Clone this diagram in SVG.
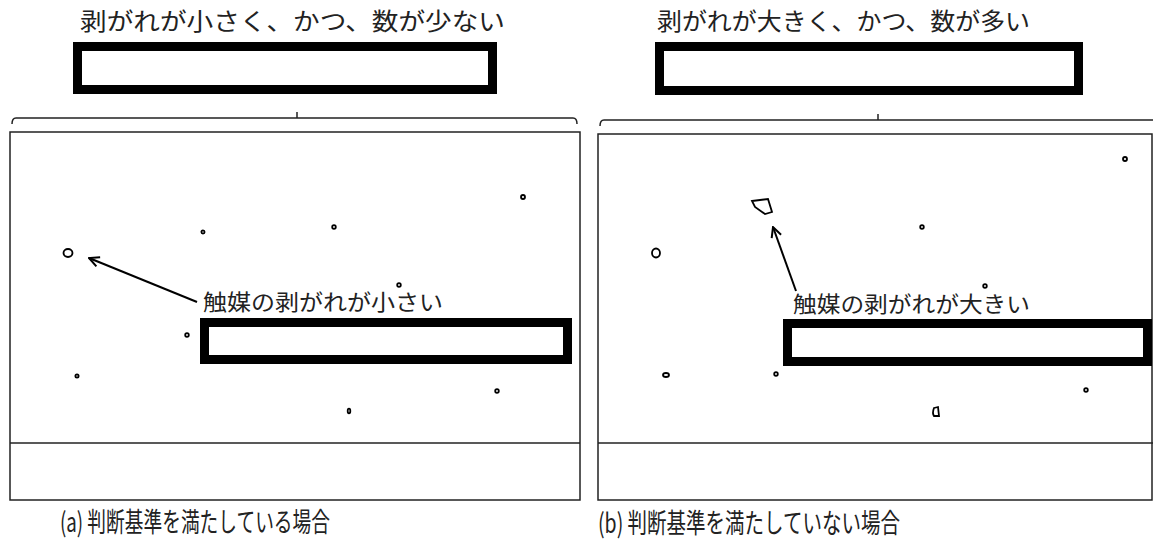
<svg xmlns="http://www.w3.org/2000/svg" width="1153" height="541" viewBox="0 0 1153 541">
<style>
.t{font-family:"Noto Sans CJK JP","Noto Sans CJK SC",sans-serif;fill:#222;}
.big{font-size:24px;}
.mid{font-size:22px;}
.cap{font-size:27px;}
.thick{fill:none;stroke:#000;stroke-width:9;}
.thin{fill:none;stroke:#222;stroke-width:1.5;}
.p{fill:#fff;stroke:#000;stroke-width:1.8;}
</style>
<defs>
<marker id="ah" viewBox="0 0 12 12" refX="11" refY="6" markerWidth="12" markerHeight="12" markerUnits="userSpaceOnUse" orient="auto">
<path d="M1,1 L11,6 L1,11" fill="none" stroke="#000" stroke-width="2"/>
</marker>
</defs>
<rect width="1153" height="541" fill="#fff"/>

<g id="panel-a">
<text class="t big" x="80" y="30" textLength="425" lengthAdjust="spacingAndGlyphs">剥がれが小さく、かつ、数が少ない</text>
<rect class="thick" x="77.5" y="46.5" width="415" height="43"/>
<path class="thin" d="M12,124 Q12,118 16,118 L573,118 Q577,118 577,124 M297,118 L297,112"/>
<rect class="thin" x="10" y="132" width="570" height="368"/>
<line class="thin" x1="10" y1="443" x2="580" y2="443"/>
<g id="particles-a">
<ellipse class="p" cx="68" cy="253" rx="4.5" ry="4"/>
<circle class="p" cx="203" cy="232" r="1.6"/>
<circle class="p" cx="334" cy="227" r="1.8"/>
<circle class="p" cx="523" cy="197" r="2"/>
<circle class="p" cx="399" cy="285" r="1.8"/>
<circle class="p" cx="187" cy="335" r="1.8"/>
<circle class="p" cx="77" cy="376" r="1.6"/>
<circle class="p" cx="497" cy="391" r="1.8"/>
<ellipse class="p" cx="349" cy="411" rx="1.3" ry="2.3"/>
</g>
<text class="t mid" x="203" y="310" textLength="240" lengthAdjust="spacingAndGlyphs">触媒の剥がれが小さい</text>
<rect class="thick" x="204.5" y="322.5" width="363" height="37"/>
</g>

<g id="panel-b">
<text class="t big" x="657" y="30" textLength="373" lengthAdjust="spacingAndGlyphs">剥がれが大きく、かつ、数が多い</text>
<rect class="thick" x="659.5" y="46.5" width="419" height="44"/>
<path class="thin" d="M600,126 Q600,120 604,120 L1153,120 M878,120 L878,114"/>
<rect class="thin" x="598" y="134" width="554" height="366"/>
<line class="thin" x1="598" y1="443" x2="1153" y2="443"/>
<g id="particles-b">
<circle class="p" cx="1125" cy="159" r="2"/>
<path class="p" d="M752,201 L768,199 L772,212 L765,214 L755,207 Z"/>
<circle class="p" cx="922" cy="227" r="1.8"/>
<ellipse class="p" cx="656" cy="253" rx="4" ry="4.5"/>
<circle class="p" cx="985" cy="286" r="1.8"/>
<ellipse class="p" cx="666" cy="375" rx="3" ry="2"/>
<circle class="p" cx="776" cy="374" r="1.8"/>
<circle class="p" cx="1086" cy="390" r="1.8"/>
<path class="p" d="M934,408 L938,407 L939,416 L934,416 Q932,413 934,408 Z"/>
</g>
<text class="t mid" x="793" y="312" textLength="237" lengthAdjust="spacingAndGlyphs">触媒の剥がれが大きい</text>
<rect class="thick" x="787.5" y="323.5" width="360" height="38"/>
</g>

<g id="connectors">
<line x1="197" y1="302" x2="89" y2="258" stroke="#000" stroke-width="2" marker-end="url(#ah)"/>
<line x1="796" y1="291" x2="773" y2="227" stroke="#000" stroke-width="2" marker-end="url(#ah)"/>
</g>

<text class="t cap" x="60" y="532" textLength="270" lengthAdjust="spacingAndGlyphs">(a) 判断基準を満たしている場合</text>
<text class="t cap" x="598" y="533" textLength="302" lengthAdjust="spacingAndGlyphs">(b) 判断基準を満たしていない場合</text>
</svg>
